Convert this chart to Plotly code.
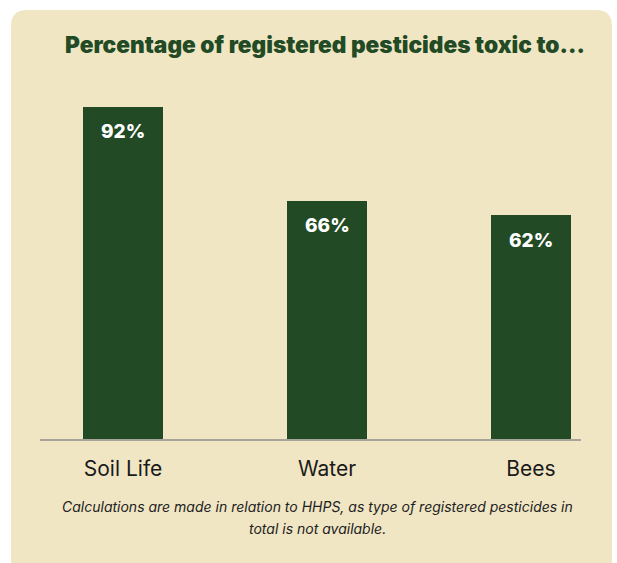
import plotly.graph_objects as go

# Share of registered pesticides toxic to each group
categories = ["Soil Life", "Water", "Bees"]
values = [92, 66, 62]
value_labels = ["92%", "66%", "62%"]

title_text = "Percentage of registered pesticides toxic to..."
footnote_lines = [
    "Calculations are made in relation to HHPS, as type of registered pesticides in",
    "total is not available.",
]

W, H = 617, 563
M_L, M_R, M_T, M_B = 40, 36, 78, 124
PLOT_W = W - M_L - M_R
PLOT_H = H - M_T - M_B

GREEN = "#224a24"
CARD = "#f0e6c4"


def px_to_paper(x, y):
    return (x - M_L) / PLOT_W, (H - M_B - y) / PLOT_H


def rounded_rect(x0, y0, x1, y1, r):
    # path in paper coordinates for a rectangle with rounded corners (given in pixels)
    def P(x, y):
        px, py = px_to_paper(x, y)
        return f"{px:.5f},{py:.5f}"
    path = f"M {P(x0 + r, y0)} L {P(x1 - r, y0)} Q {P(x1, y0)} {P(x1, y0 + r)} "
    path += f"L {P(x1, y1 - r)} Q {P(x1, y1)} {P(x1 - r, y1)} "
    path += f"L {P(x0 + r, y1)} Q {P(x0, y1)} {P(x0, y1 - r)} "
    path += f"L {P(x0, y0 + r)} Q {P(x0, y0)} {P(x0 + r, y0)} Z"
    return path


fig = go.Figure()
fig.add_trace(go.Bar(
    x=list(range(len(categories))),
    y=values,
    width=0.392,
    marker=dict(color=GREEN, line=dict(width=0)),
    hoverinfo="skip",
))

# value labels sitting just inside the top of each bar
for i, (v, lab) in enumerate(zip(values, value_labels)):
    fig.add_annotation(x=i, y=v, text=lab, showarrow=False,
                       yshift=-25, yanchor="middle",
                       font=dict(family="Inter", size=19, color="white", weight=800))

fig.add_shape(type="path", xref="paper", yref="paper", layer="below",
              path=rounded_rect(11, 10, 612, 600, 16),
              fillcolor=CARD, line=dict(width=0))

tx, ty = px_to_paper(63, 44)
fig.add_annotation(xref="paper", yref="paper", x=tx, y=ty, xanchor="left", yanchor="middle",
                   text=title_text, showarrow=False,
                   font=dict(family="Inter", size=22.7, color=GREEN, weight=900))

for j, (line, ypx) in enumerate(zip(footnote_lines, [506, 528])):
    fx, fy = px_to_paper(317, ypx)
    fig.add_annotation(xref="paper", yref="paper", x=fx, y=fy, xanchor="center", yanchor="middle",
                       text=f"<i>{line}</i>", showarrow=False,
                       font=dict(family="Inter", size=14, color="#222222"))

fig.update_layout(
    width=W, height=H,
    margin=dict(l=M_L, r=M_R, t=M_T, b=M_B),
    paper_bgcolor="white",
    plot_bgcolor="rgba(0,0,0,0)",
    showlegend=False,
    bargap=0,
    xaxis=dict(
        range=[-0.407, 2.245],
        tickmode="array",
        tickvals=list(range(len(categories))),
        ticktext=categories,
        tickfont=dict(family="Inter", size=21, color="#1a1a1a"),
        showline=True, linecolor="#a8a49a", linewidth=1.5,
        showgrid=False, zeroline=False,
        ticks="", ticklabelstandoff=10,
    ),
    yaxis=dict(range=[0, 100], visible=False, showgrid=False, zeroline=False),
)

fig.write_html("out.html")
